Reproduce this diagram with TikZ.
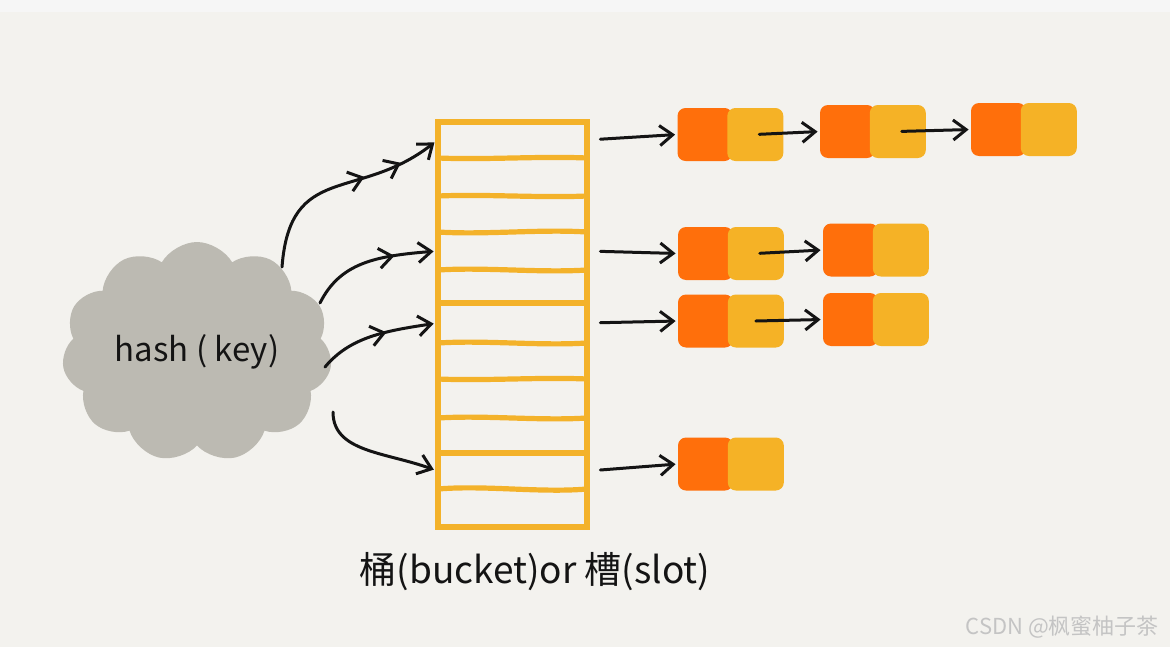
\documentclass[tikz,border=0pt]{standalone}
\usepackage{fontspec}
\setmainfont{Noto Sans CJK SC}
\usepackage{tikz}
\usetikzlibrary{arrows.meta,positioning,shapes.symbols,decorations.markings}
\definecolor{paper}{HTML}{F3F2EE}
\definecolor{topband}{HTML}{F6F6F6}
\definecolor{cloudgray}{HTML}{BCBAB2}
\definecolor{slotgold}{HTML}{F3B22A}
\definecolor{keyorange}{HTML}{FF6F0B}
\definecolor{valgold}{HTML}{F5B226}
\definecolor{ink}{HTML}{141414}
\definecolor{wmgray}{HTML}{C4C4C4}
\tikzset{
  font=\fontsize{16.5}{18}\selectfont,
  >={Straight Barb[length=6.5pt,width=10pt]},
  cloudbox/.style={
    cloud, cloud puffs=11, cloud puff arc=120, aspect=1.25,
    fill=cloudgray, text=ink, inner sep=0pt,
    minimum width=135pt, minimum height=110pt
  },
  bucketbox/.style={rectangle, draw=slotgold, line width=3pt, inner sep=0pt,
    minimum width=74.5pt, minimum height=202.5pt},
  slotcell/.style={rectangle, inner sep=0pt, minimum width=74.5pt, minimum height=17pt},
  divider/.style={draw=slotgold, line width=2.6pt, line cap=round},
  keybox/.style={rectangle, rounded corners=4pt, fill=keyorange, inner sep=0pt,
    minimum width=27.5pt, minimum height=26.5pt},
  valbox/.style={keybox, fill=valgold, minimum width=28pt},
  flow/.style={->, line width=1.5pt, draw=ink, line cap=round},
  midtip/.style={postaction={decorate, decoration={markings,
    mark=at position #1 with {\arrow{>}}}}},
  bucketlabel/.style={font=\fontsize{18.5}{21}\selectfont, text=ink},
  wmark/.style={font=\fontsize{11}{13}\selectfont, text=wmgray}
}

\begin{document}
\begin{tikzpicture}[x=0.5pt,y=-0.5pt]
  % ---- Canvas ----
  \fill[paper] (0,0) rectangle (1170,647);
  \fill[topband] (0,0) rectangle (1170,12);
  \useasboundingbox (0,0) rectangle (1170,647);

  % ---- Hash function ----
  \node[cloudbox] (hash) at (197,352) {hash ( key)};

  % ---- Bucket array ----
  \node[bucketbox] (bucket) at (512.5,324.5) {};
  \foreach \i/\y in {1/140,2/177,3/214,4/251,5/286.5,6/323,7/361,8/398.5,9/435.5,10/471,11/508}
    \node[slotcell] (s\i) at (512.5,\y) {};
  \foreach \y/\w in {158/2,196/-2,232/3,270/-3,303/0,343/-3,379/2,418/-3,453/0,489/-4}
    \draw[divider] (438,\y) .. controls (485,{\y+\w}) and (540,{\y-\w}) .. (587,\y);
  \node[bucketlabel] (lbl) at (535,572) {桶(bucket)or 槽(slot)};

  % ---- Chains ----
  \node[keybox] (a1k) at (705,134.5) {};
  \node[valbox, right=-3pt of a1k] (a1v) {};
  \node[keybox] (b1k) at (847.5,131.5) {};
  \node[valbox, right=-3pt of b1k] (b1v) {};
  \node[keybox] (c1k) at (998.5,129.5) {};
  \node[valbox, right=-3pt of c1k] (c1v) {};

  \node[keybox] (a2k) at (705.5,253.5) {};
  \node[valbox, right=-3pt of a2k] (a2v) {};
  \node[keybox] (b2k) at (850.5,250) {};
  \node[valbox, right=-3pt of b2k] (b2v) {};

  \node[keybox] (a3k) at (705.5,321) {};
  \node[valbox, right=-3pt of a3k] (a3v) {};
  \node[keybox] (b3k) at (850.5,319.5) {};
  \node[valbox, right=-3pt of b3k] (b3v) {};

  \node[keybox] (a4k) at (705.5,464) {};
  \node[valbox, right=-3pt of a4k] (a4v) {};

  % ---- Watermark ----
  \node[wmark, anchor=east] (csdn) at (1166,627) {CSDN @枫蜜柚子茶};

  % ---- Edges ----
  \coordinate (tailA) at (282,267);
  \coordinate (tailB) at (320,303);
  \coordinate (tailC) at (325,367);
  \coordinate (tailD) at (333,412);
  \draw[flow, midtip=0.62, midtip=0.8, shorten >=2pt]
    (tailA) .. controls (290,162) and (358,202) .. (s1.west);
  \draw[flow, midtip=0.68, shorten >=2pt]
    (tailB) .. controls (340,263) and (375,256) .. (s4.west);
  \draw[flow, midtip=0.58, shorten >=2pt]
    (tailC) .. controls (350,337) and (385,331) .. (s6.west);
  \draw[flow, shorten >=2pt]
    (tailD) .. controls (333,452) and (385,452) .. (s10.west);

  \draw[flow, shorten <=6.5pt, shorten >=1pt] (s1.east) -- (a1k.west);
  \draw[flow, shorten <=6.5pt, shorten >=1pt] (s4.east) -- (a2k.west);
  \draw[flow, shorten <=6.5pt, shorten >=1pt] (s6.east) -- (a3k.west);
  \draw[flow, shorten <=6.5pt, shorten >=1pt] (s10.east) -- (a4k.west);

  \draw[flow, shorten <=2pt, shorten >=1pt] (a1v.center) -- (b1k.west);
  \draw[flow, shorten <=2pt, shorten >=1pt] (b1v.center) -- (c1k.west);
  \draw[flow, shorten <=2pt, shorten >=1pt] (a2v.center) -- (b2k.west);
  \draw[flow, shorten >=1pt] (a3v.center) -- (b3k.west);
\end{tikzpicture}
\end{document}
